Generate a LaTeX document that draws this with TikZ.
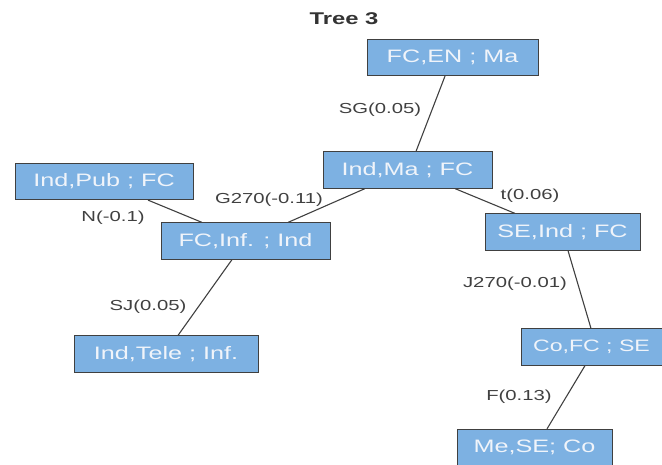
\documentclass[tikz,border=0pt]{standalone}
\usepackage{fontspec}
\setmainfont[FakeStretch=1.4]{Liberation Sans}
\definecolor{boxblue}{RGB}{125,177,226}
\definecolor{boxtext}{RGB}{240,244,250}
\definecolor{linegray}{RGB}{64,64,64}
\begin{document}
\begin{tikzpicture}[x=1pt, y=-1pt,
         split/.style={rectangle, draw=linegray, line width=0.7pt, fill=boxblue,
            text=boxtext, font=\fontsize{18}{20}\selectfont,
            minimum height=36.5pt, inner sep=0pt},
         rule name/.style={text=linegray, font=\fontsize{14.5}{16}\selectfont, inner sep=0pt},
         branch/.style={linegray, line width=1.1pt}
      ]
   \useasboundingbox (0,0) rectangle (662,464);
   \clip (0,0) rectangle (662,464);

   \node[font=\bfseries\fontsize{17}{19}\selectfont, text=linegray!80!black] (title) at (344,19) {Tree 3};

   \node[split, minimum width=171pt] (fcen) at (452.5,57.5) {FC,EN ; Ma};
   \node[split, minimum width=169pt] (indma) at (407.5,170) {Ind,Ma ; FC};
   \node[split, minimum width=178pt] (indpub) at (104,181.5) {Ind,Pub ; FC};
   \node[split, minimum width=169pt] (fcinf) at (245.5,241) {FC,Inf. ; Ind};
   \node[split, minimum width=155pt] (seind) at (562.5,232) {SE,Ind ; FC};
   \node[split, minimum width=184pt] (indtele) at (166,354) {Ind,Tele ; Inf.};
   \node[split, minimum width=141pt, font=\fontsize{16.5}{18}\selectfont] (cofc) at (591.5,347) {Co,FC ; SE};
   \node[split, minimum width=155pt] (mese) at (534.5,447.5) {Me,SE; Co};

   \node[rule name] (sgL) at (380,110) {SG(0.05)};
   \node[rule name] (g270L) at (269,200) {G270(-0.11)};
   \node[rule name] (nL) at (113,218) {N(-0.1)};
   \node[rule name] (tL) at (530,196) {t(0.06)};
   \node[rule name] (j270L) at (515,284) {J270(-0.01)};
   \node[rule name] (sjL) at (148,307) {SJ(0.05)};
   \node[rule name] (fL) at (519,397) {F(0.13)};

   \begin{scope}[branch]
      \draw ([xshift=-7.5pt]fcen.south) -- ([xshift=8.5pt]indma.north);
      \draw ([xshift=-42.5pt]indma.south) -- ([xshift=42.5pt]fcinf.north);
      \draw ([xshift=47.5pt]indma.south) -- ([xshift=-47.5pt]seind.north);
      \draw ([xshift=44pt]indpub.south) -- ([xshift=-43.5pt]fcinf.north);
      \draw ([xshift=-13.5pt]fcinf.south) -- ([xshift=12pt]indtele.north);
      \draw ([xshift=5.5pt]seind.south) -- ([xshift=-0.5pt]cofc.north);
      \draw ([xshift=-6.5pt]cofc.south) -- ([xshift=12.5pt]mese.north);
   \end{scope}
\end{tikzpicture}
\end{document}
